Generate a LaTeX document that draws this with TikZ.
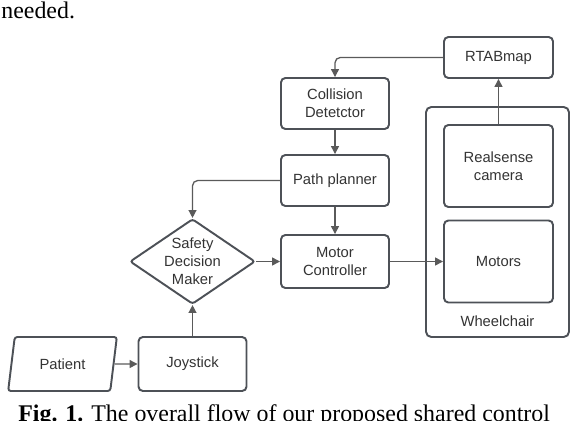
\documentclass[tikz,border=0pt]{standalone}
\usepackage{fontspec}
\setmainfont{Liberation Serif}
\setsansfont{Liberation Sans}
\usetikzlibrary{arrows.meta,positioning,shapes.geometric}
\definecolor{edgegray}{HTML}{4D5157}
\definecolor{arrowgray}{HTML}{5A5A5A}
\definecolor{textgray}{HTML}{333333}

\begin{document}
\begin{tikzpicture}[
  blk/.style={draw=edgegray, line width=1.1pt, rounded corners=2.5pt, minimum width=2.16cm, minimum height=1.02cm, font=\sffamily\fontsize{8.4}{10.2}\selectfont, text=textgray, align=center, inner sep=2pt},
  decision/.style={diamond, draw=edgegray, line width=1.1pt, rounded corners=1.5pt, aspect=1.47, inner sep=0pt, minimum width=2.38cm, minimum height=1.62cm, font=\sffamily\fontsize{8.4}{10.2}\selectfont, text=textgray, align=center},
  inputbox/.style={trapezium, trapezium stretches=true, trapezium left angle=80, trapezium right angle=100, draw=edgegray, line width=1.1pt, rounded corners=1.5pt, minimum width=2.18cm, minimum height=1.08cm, font=\sffamily\fontsize{8.4}{10.2}\selectfont, text=textgray},
  groupbox/.style={draw=edgegray, line width=1.1pt, rounded corners=3pt, minimum width=2.86cm, minimum height=4.6cm},
  flow/.style={draw=arrowgray, line width=0.75pt, -{Triangle[length=4.5pt, width=4.5pt]}, rounded corners=3pt},
]
\useasboundingbox (0,0) rectangle (11.44,-8.4);

% ===================== surrounding paper text =====================
\node[anchor=base west, inner sep=0pt, font=\fontsize{13.6}{16}\selectfont] (prev) at (0.02,-0.36) {needed.};
\node[anchor=base west, inner sep=0pt, font=\fontsize{13.6}{16}\selectfont] (cap) at (0.36,-8.42) {\textbf{Fig. 1.} The overall flow of our proposed shared control};

% ===================== Wheelchair group =====================
\node[groupbox] (chair) at (9.95,-4.44) {};
\node[font=\sffamily\fontsize{8.4}{10.2}\selectfont, text=textgray, anchor=south] (chairlbl) at ([yshift=0.1cm]chair.south) {Wheelchair};

\node[blk, minimum width=2.18cm, minimum height=1.64cm] (cam) at (9.97,-3.32) {Realsense\\camera};
\node[blk, minimum width=2.18cm, minimum height=1.64cm] (mot) at (9.97,-5.23) {Motors};
\node[blk, minimum width=2.18cm, minimum height=0.82cm] (rtab) at (9.97,-1.15) {RTABmap};

% ===================== Control chain =====================
\node[blk] (coll) at (6.70,-2.07) {Collision\\Detetctor};
\node[blk] (path) at (6.70,-3.61) {Path planner};
\node[blk, minimum height=1.06cm] (motc) at (6.70,-5.23) {Motor\\Controller};
\node[decision] (safe) at (3.85,-5.23) {Safety\\Decision\\Maker};
\node[blk, minimum height=1.08cm] (joy) at (3.85,-7.28) {Joystick};
\node[inputbox] (pat) at (1.25,-7.28) {Patient};

% ===================== Connectors =====================
\draw[flow] (rtab.west) -| (coll.north);
\draw[flow] (coll) -- (path);
\draw[flow] (path) -- (motc);
\draw[flow] (path.west) -| (safe.north);
\draw[flow] (safe) -- (motc);
\draw[flow] (motc) -- (mot);
\draw[flow] (cam) -- (rtab);
\draw[flow] (pat) -- (joy);
\draw[flow] (joy) -- (safe);

\end{tikzpicture}
\end{document}
